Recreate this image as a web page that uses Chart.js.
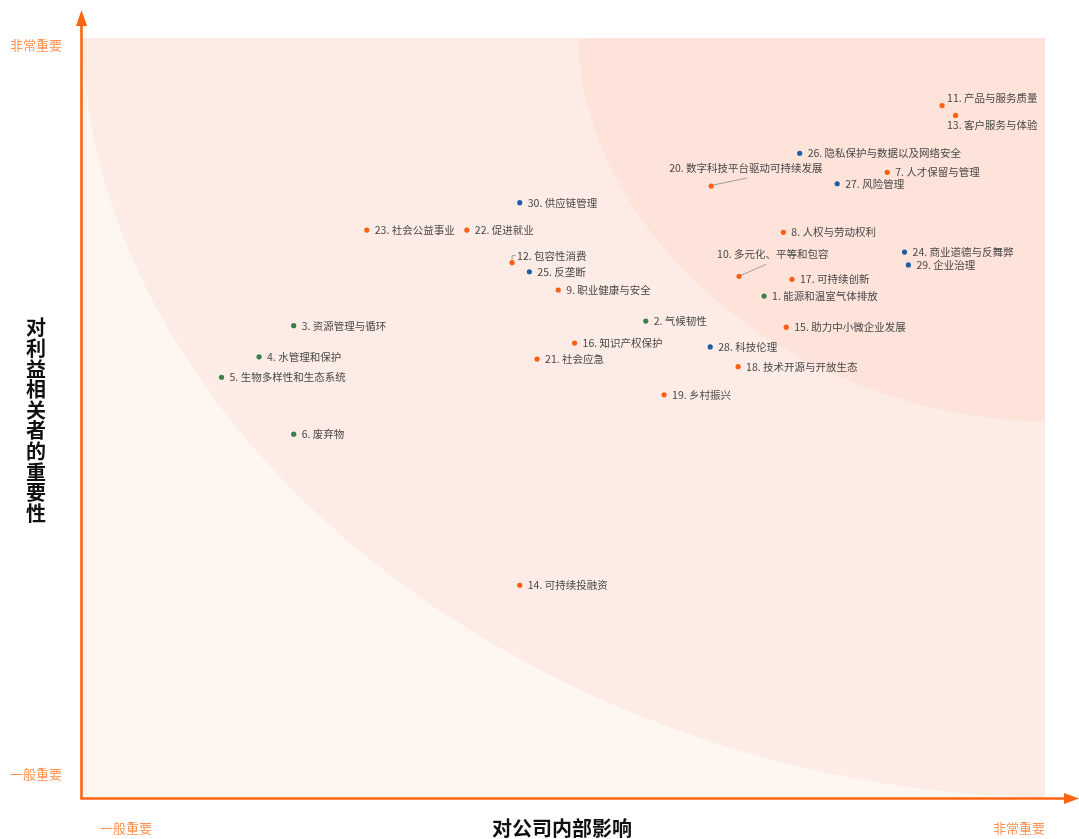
<!DOCTYPE html>
<html>
<head>
<meta charset="utf-8">
<script src="https://cdn.jsdelivr.net/npm/chart.js@4.4.0/dist/chart.umd.min.js"></script>
<style>
  body { margin: 0; background: #fff; }
  #wrap { width: 1079px; height: 839px; }
</style>
</head>
<body>
<div id="wrap"><canvas id="matrix" width="1079" height="839"></canvas></div>
<script>
// ESG materiality topics, numbered 1..30
const topicNames = [
  "能源和温室气体排放", "气候韧性", "资源管理与循环", "水管理和保护", "生物多样性和生态系统",
  "废弃物", "人才保留与管理", "人权与劳动权利", "职业健康与安全", "多元化、平等和包容",
  "产品与服务质量", "包容性消费", "客户服务与体验", "可持续投融资", "助力中小微企业发展",
  "知识产权保护", "可持续创新", "技术开源与开放生态", "乡村振兴", "数字科技平台驱动可持续发展",
  "社会应急", "促进就业", "社会公益事业", "商业道德与反舞弊", "反垄断",
  "隐私保护与数据以及网络安全", "风险管理", "科技伦理", "企业治理", "供应链管理"
];
// E = environment, S = social, G = governance
const topicGroups = [
  "E", "E", "E", "E", "E", "E",
  "S", "S", "S", "S", "S", "S", "S", "S", "S", "S", "S", "S", "S", "S", "S", "S", "S",
  "G", "G", "G", "G", "G", "G", "G"
];
// x: impact on the company, y: importance to stakeholders (0-10)
const impactScores = [
  7.08, 5.85, 2.19, 1.83, 1.44, 2.19, 8.36, 7.28, 4.94, 6.82,
  8.93, 4.46, 9.07, 4.54, 7.31, 5.11, 7.37, 6.81, 6.04, 6.53,
  4.72, 3.99, 2.95, 8.54, 4.64, 7.45, 7.84, 6.52, 8.58, 4.54
];
const stakeholderScores = [
  6.60, 6.27, 6.21, 5.80, 5.53, 4.78, 8.23, 7.44, 6.68, 6.86,
  9.11, 7.04, 8.98, 2.79, 6.19, 5.98, 6.82, 5.67, 5.30, 8.05,
  5.77, 7.47, 7.47, 7.18, 6.92, 8.48, 8.08, 5.93, 7.01, 7.83
];
const axisMin = 0;
const axisMax = 10;
const levelLabels = ["一般重要", "非常重要"];
const xTitle = "对公司内部影响";
const yTitle = "对利益相关者的重要性";
// background zones, measured from the top-right corner
const zoneRadiusX = [10, 4.85];
const zoneRadiusY = [10, 5.05];

const groupColors = { E: "#3b7f49", S: "#ff5f0f", G: "#1d5ea8" };
const zoneColors = ["#fef6f1", "#fdece5", "#fde3d9"];
const axisColor = "#ff6410";
const levelColor = "#ff9152";
const labelFont = '10.5px "Noto Sans CJK SC", "Noto Sans", sans-serif';
const titleFont = 'bold 20px "Noto Sans CJK SC", "Noto Sans", sans-serif';

// label placement relative to the dot (default: right of it)
const labelPlacement = {
  11: { dx: 5, dy: -7.5 },
  13: { dx: -8.5, dy: 9.5 },
  20: { dx: -42, dy: -18, leader: [36, -8] },
  10: { dx: -22, dy: -22, leader: [27, -12] },
  12: { dx: 5, dy: -7, bracket: true }
};

const datasets = ["E", "S", "G"].map(g => {
  const pts = [];
  topicNames.forEach((name, i) => {
    if (topicGroups[i] === g) {
      pts.push({ x: impactScores[i], y: stakeholderScores[i], label: `${i + 1}. ${name}`, num: i + 1 });
    }
  });
  return {
    data: pts,
    backgroundColor: groupColors[g],
    borderWidth: 0,
    pointRadius: 2.6,
    pointHoverRadius: 2.6
  };
});

const zonesPlugin = {
  id: "zones",
  beforeDatasetsDraw(chart) {
    const { ctx, chartArea: a, scales: { x, y } } = chart;
    ctx.save();
    ctx.beginPath();
    ctx.rect(a.left, a.top, a.right - a.left, a.bottom - a.top);
    ctx.clip();
    ctx.fillStyle = zoneColors[0];
    ctx.fillRect(a.left, a.top, a.right - a.left, a.bottom - a.top);
    const p = 1.9;
    zoneRadiusX.forEach((rx, k) => {
      const ry = zoneRadiusY[k];
      ctx.beginPath();
      ctx.moveTo(x.getPixelForValue(axisMax), y.getPixelForValue(axisMax));
      for (let s = 0; s <= 90; s++) {
        const t = s / 90 * Math.PI / 2;
        const vx = axisMax - rx * Math.pow(Math.cos(t), 2 / p);
        const vy = axisMax - ry * Math.pow(Math.sin(t), 2 / p);
        ctx.lineTo(x.getPixelForValue(vx), y.getPixelForValue(vy));
      }
      ctx.closePath();
      ctx.fillStyle = zoneColors[k + 1];
      ctx.fill();
    });
    ctx.restore();
  }
};

const labelsPlugin = {
  id: "topicLabels",
  afterDatasetsDraw(chart) {
    const ctx = chart.ctx;
    ctx.save();
    ctx.font = labelFont;
    ctx.textBaseline = "middle";
    ctx.fillStyle = "#474747";
    chart.data.datasets.forEach((ds, di) => {
      chart.getDatasetMeta(di).data.forEach((el, j) => {
        const d = ds.data[j];
        const pl = labelPlacement[d.num] || { dx: 8, dy: 0 };
        if (pl.leader) {
          ctx.strokeStyle = "#8a8a8a";
          ctx.lineWidth = 0.8;
          ctx.beginPath();
          ctx.moveTo(el.x + 2, el.y - 1);
          ctx.lineTo(el.x + pl.leader[0], el.y + pl.leader[1]);
          ctx.stroke();
        }
        if (pl.bracket) {
          ctx.strokeStyle = "#8a8a8a";
          ctx.lineWidth = 0.8;
          ctx.beginPath();
          ctx.moveTo(el.x, el.y - 2);
          ctx.lineTo(el.x, el.y + pl.dy);
          ctx.lineTo(el.x + pl.dx - 1.5, el.y + pl.dy);
          ctx.stroke();
        }
        ctx.fillText(d.label, el.x + pl.dx, el.y + pl.dy);
      });
    });
    ctx.restore();
  }
};

const axesPlugin = {
  id: "arrowAxes",
  afterDraw(chart) {
    const { ctx, chartArea: a } = chart;
    const ox = a.left - 1.5;
    const oy = a.bottom + 1.5;
    ctx.save();
    ctx.strokeStyle = axisColor;
    ctx.fillStyle = axisColor;
    ctx.lineWidth = 2.6;
    ctx.beginPath();
    ctx.moveTo(ox, oy + 1.3);
    ctx.lineTo(ox, 22);
    ctx.moveTo(ox - 1.3, oy);
    ctx.lineTo(chart.width - 14, oy);
    ctx.stroke();
    // arrow heads
    ctx.beginPath();
    ctx.moveTo(ox, 10);
    ctx.lineTo(ox + 5.5, 26);
    ctx.lineTo(ox - 5.5, 26);
    ctx.closePath();
    ctx.fill();
    ctx.beginPath();
    ctx.moveTo(chart.width, oy);
    ctx.lineTo(chart.width - 15, oy - 5.5);
    ctx.lineTo(chart.width - 15, oy + 5.5);
    ctx.closePath();
    ctx.fill();

    // level labels
    ctx.font = '13px "Noto Sans CJK SC", "Noto Sans", sans-serif';
    ctx.fillStyle = levelColor;
    ctx.textBaseline = "middle";
    ctx.textAlign = "center";
    ctx.fillText(levelLabels[1], 36, a.top + 7);
    ctx.fillText(levelLabels[0], 36, a.bottom - 23);
    ctx.fillText(levelLabels[0], a.left + 43, 828);
    ctx.textAlign = "right";
    ctx.fillText(levelLabels[1], a.right, 828);

    // axis titles
    ctx.font = titleFont;
    ctx.fillStyle = "#111";
    ctx.textAlign = "center";
    ctx.fillText(xTitle, (a.left + a.right) / 2 - 2, 828);
    const chars = Array.from(yTitle);
    const step = 20.6;
    const cy = (a.top + a.bottom) / 2 + 3;
    chars.forEach((c, i) => {
      ctx.fillText(c, 36, cy + (i - (chars.length - 1) / 2) * step);
    });
    ctx.restore();
  }
};

new Chart(document.getElementById("matrix"), {
  type: "scatter",
  data: { datasets },
  options: {
    responsive: false,
    animation: false,
    layout: { padding: { left: 83, right: 34, top: 38, bottom: 42 } },
    scales: {
      x: { display: false, min: axisMin, max: axisMax },
      y: { display: false, min: axisMin, max: axisMax }
    },
    plugins: { legend: { display: false }, tooltip: { enabled: false } }
  },
  plugins: [zonesPlugin, labelsPlugin, axesPlugin]
});
</script>
</body>
</html>
